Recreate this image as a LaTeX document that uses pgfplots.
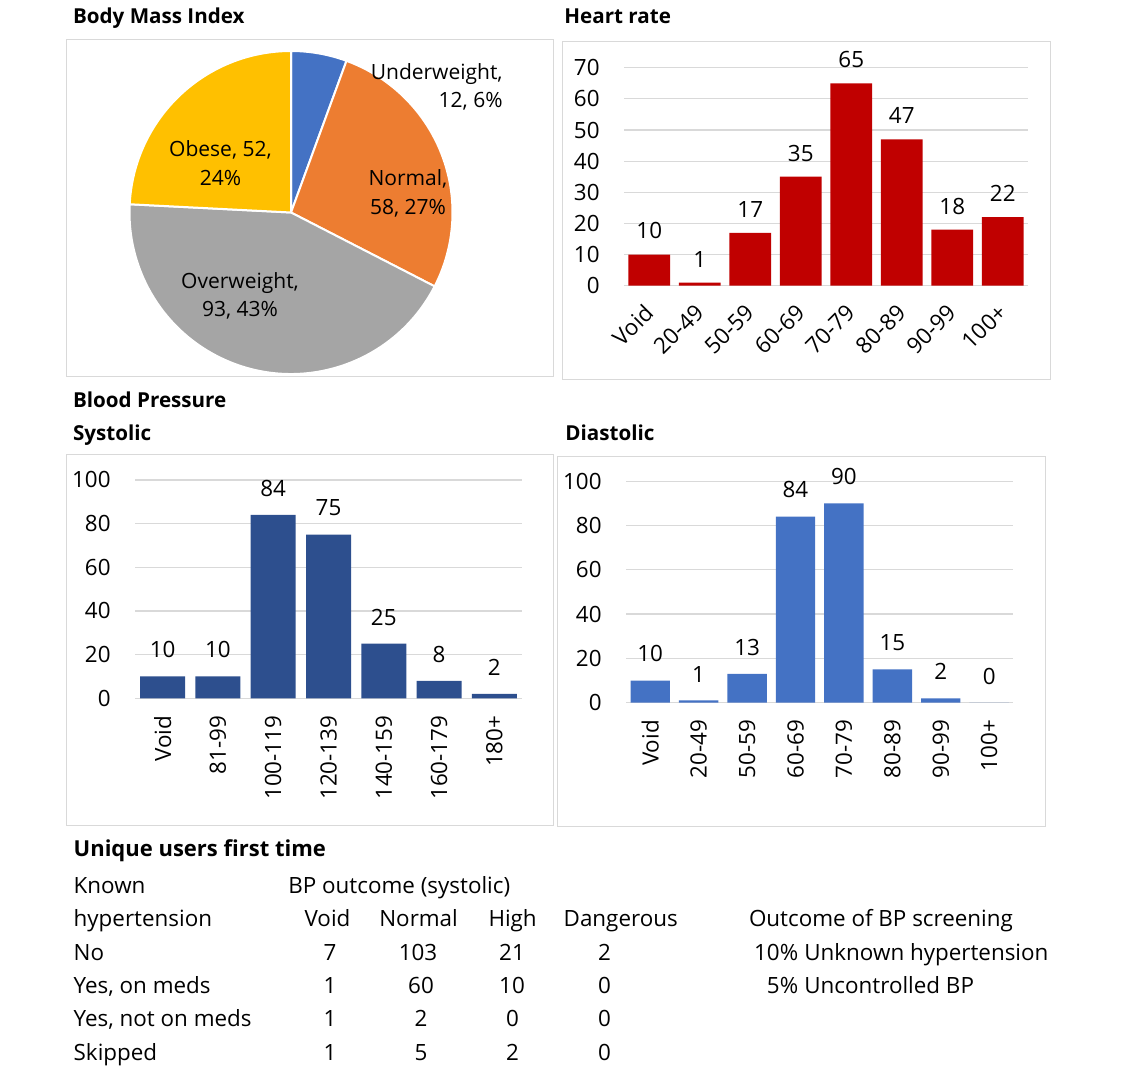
\documentclass[border=0pt]{standalone}
\usepackage{fontspec}
\setmainfont{Open Sans}
\usepackage{pgfplots}
\pgfplotsset{compat=1.18}

\definecolor{gridgray}{HTML}{D9D9D9}
\definecolor{pieblue}{HTML}{4472C4}
\definecolor{pieorange}{HTML}{ED7D31}
\definecolor{piegray}{HTML}{A5A5A5}
\definecolor{pieyellow}{HTML}{FFC000}
\definecolor{hrred}{HTML}{C00000}
\definecolor{sysblue}{HTML}{2D4F8E}
\definecolor{diablue}{HTML}{4472C4}

\newcommand{\lbl}{\fontsize{11.2}{13}\selectfont}
\newcommand{\pielbl}{\fontsize{10.5}{13}\selectfont}
\newcommand{\tbl}{\fontsize{11.2}{13}\selectfont}
\newcommand{\ttl}{\fontsize{10.3}{12}\selectfont\bfseries}
\newcommand{\bigttl}{\fontsize{11}{13}\selectfont\bfseries}

\pgfplotsset{
  excelbar/.style={
    ybar, scale only axis,
    axis line style={draw=none},
    major tick length=0pt,
    ymajorgrids, grid style={gridgray, line width=0.6pt},
    xtick=data, ymin=0,
    tick label style={font=\lbl},
    /pgf/number format/assume math mode=true,
    yticklabel style={anchor=east, inner sep=0pt, xshift=-12pt},
    nodes near coords,
    every node near coord/.append style={font=\lbl, anchor=south, inner sep=0pt, yshift=9pt},
    clip=false,
  },
}

% BMI counts
\def\bmiUnder{12}\def\bmiNormal{58}\def\bmiOver{93}\def\bmiObese{52}

\begin{document}
\begin{tikzpicture}[x=0.5pt, y=-0.5pt]
\path[use as bounding box] (0,0) rectangle (1122,1081);

% anchor points of the axes (pixel grid of the reference)
\coordinate (pieO) at (291,212.5);
\coordinate (hrO) at (624,285.7);
\coordinate (sysO) at (135,698.3);
\coordinate (diaO) at (626,702.7);

% panel frames
\draw[gridgray, line width=0.5pt] (66.7,39.3) rectangle (553,376.7);
\draw[gridgray, line width=0.5pt] (562,42) rectangle (1050,379);
\draw[gridgray, line width=0.5pt] (66.7,454.3) rectangle (553.3,825);
\draw[gridgray, line width=0.5pt] (557.3,456.7) rectangle (1045,826.7);

% titles
\node[anchor=base west, font=\ttl, inner sep=0pt] at (72.7,24) {Body Mass Index};
\node[anchor=base west, font=\ttl, inner sep=0pt] at (564,24) {Heart rate};
\node[anchor=base west, font=\ttl, inner sep=0pt] at (72.7,407.3) {Blood Pressure};
\node[anchor=base west, font=\ttl, inner sep=0pt] at (72.7,440) {Systolic};
\node[anchor=base west, font=\ttl, inner sep=0pt] at (565,440.7) {Diastolic};

% pie
\pgfmathsetmacro{\bmiTot}{\bmiUnder+\bmiNormal+\bmiOver+\bmiObese}
\pgfmathsetmacro{\degPer}{360/\bmiTot}
\pgfmathsetmacro{\aA}{90-\degPer*\bmiUnder}
\pgfmathsetmacro{\aB}{\aA-\degPer*\bmiNormal}
\pgfmathsetmacro{\aC}{\aB-\degPer*\bmiOver}
\pgfmathsetmacro{\aD}{\aC-\degPer*\bmiObese}
\begin{axis}[at={(pieO)}, anchor=origin, hide axis, scale only axis,
  x=80.75pt, y=80.75pt, xmin=-1, xmax=1, ymin=-1, ymax=1, clip=false]
  \filldraw[fill=pieblue, draw=white, line width=1pt] (axis cs:0,0) -- ++(90:80.75pt) arc[start angle=90, end angle=\aA, radius=80.75pt] -- cycle;
  \filldraw[fill=pieorange, draw=white, line width=1pt] (axis cs:0,0) -- ++(\aA:80.75pt) arc[start angle=\aA, end angle=\aB, radius=80.75pt] -- cycle;
  \filldraw[fill=piegray, draw=white, line width=1pt] (axis cs:0,0) -- ++(\aB:80.75pt) arc[start angle=\aB, end angle=\aC, radius=80.75pt] -- cycle;
  \filldraw[fill=pieyellow, draw=white, line width=1pt] (axis cs:0,0) -- ++(\aC:80.75pt) arc[start angle=\aC, end angle=\aD, radius=80.75pt] -- cycle;
\end{axis}
\node[anchor=base east, font=\pielbl, inner sep=0pt] at (503,79.3) {Underweight,};
\node[anchor=base east, font=\pielbl, inner sep=0pt] at (503,107.7) {12, 6\%};
\node[anchor=base, font=\pielbl, inner sep=0pt] at (408,185.7) {Normal,};
\node[anchor=base, font=\pielbl, inner sep=0pt] at (408,214.3) {58, 27\%};
\node[anchor=base, font=\pielbl, inner sep=0pt] at (220.5,156.7) {Obese, 52,};
\node[anchor=base, font=\pielbl, inner sep=0pt] at (220.5,185) {24\%};
\node[anchor=base, font=\pielbl, inner sep=0pt] at (240,288.3) {Overweight,};
\node[anchor=base, font=\pielbl, inner sep=0pt] at (240,316.7) {93, 43\%};

% heart rate
\begin{axis}[excelbar,
  at={(hrO)}, anchor=south west,
  width=202pt, height=109pt,
  xmin=-0.5, xmax=7.5, ymax=70, ytick={0,10,...,70},
  bar width=20.85pt,
  every node near coord/.append style={yshift=-1.5pt},
  xticklabels={Void,20-49,50-59,60-69,70-79,80-89,90-99,100+},
  xticklabel style={yshift=-11.5pt, rotate=45, anchor=east, inner sep=0pt},
]
\addplot[fill=hrred, draw=none] coordinates {(0,10) (1,1) (2,17) (3,35) (4,65) (5,47) (6,18) (7,22)};
\end{axis}

% systolic
\begin{scope}
\clip (0,0) rectangle (1122,798);
\begin{axis}[excelbar,
  at={(sysO)}, anchor=south west,
  width=193.5pt, height=109.2pt,
  xmin=-0.5, xmax=6.5, ymax=100, ytick={0,20,...,100},
  bar width=22.5pt,
  xticklabels={Void,81-99,100-119,120-139,140-159,160-179,180+},
  xticklabel style={yshift=-8.5pt, rotate=90, anchor=east, inner sep=0pt},
]
\addplot[fill=sysblue, draw=none] coordinates {(0,10) (1,10) (2,84) (3,75) (4,25) (5,8) (6,2)};
\end{axis}
\end{scope}

% diastolic
\begin{axis}[excelbar,
  at={(diaO)}, anchor=south west,
  width=193.7pt, height=110.8pt,
  xmin=-0.5, xmax=7.5, ymax=100, ytick={0,20,...,100},
  bar width=19.7pt,
  xticklabels={Void,20-49,50-59,60-69,70-79,80-89,90-99,100+},
  xticklabel style={yshift=-8.5pt, rotate=90, anchor=east, inner sep=0pt},
]
\addplot[fill=diablue, draw=none] coordinates {(0,10) (1,1) (2,13) (3,84) (4,90) (5,15) (6,2) (7,0)};
\end{axis}

% table
\node[anchor=base west, font=\bigttl, inner sep=0pt] at (73.3,856) {Unique users first time};
\begin{scope}[every node/.style={font=\tbl, inner sep=0pt}]
\node[anchor=base west] at (73.3,893.3) {Known};
\node[anchor=base west] at (288,893.3) {BP outcome (systolic)};
\node[anchor=base west] at (73.3,926.7) {hypertension};
\node[anchor=base] at (327.5,926.7) {Void};
\node[anchor=base] at (418.6,926.7) {Normal};
\node[anchor=base] at (512.6,926.7) {High};
\node[anchor=base] at (620.7,926.7) {Dangerous};
\node[anchor=base west] at (748.6,926.7) {Outcome of BP screening};
\node[anchor=base west] at (73.3,960) {No};
\node[anchor=base west] at (73.3,993.3) {Yes, on meds};
\node[anchor=base west] at (73.3,1026.7) {Yes, not on meds};
\node[anchor=base west] at (73.3,1060) {Skipped};
\node[anchor=base] at (330,960) {7};
\node[anchor=base] at (330,993.3) {1};
\node[anchor=base] at (330,1026.7) {1};
\node[anchor=base] at (330,1060) {1};
\node[anchor=base] at (418,960) {103};
\node[anchor=base] at (421,993.3) {60};
\node[anchor=base] at (421,1026.7) {2};
\node[anchor=base] at (421,1060) {5};
\node[anchor=base] at (512,960) {21};
\node[anchor=base] at (512,993.3) {10};
\node[anchor=base] at (512.5,1026.7) {0};
\node[anchor=base] at (512.5,1060) {2};
\node[anchor=base] at (604.5,960) {2};
\node[anchor=base] at (604.5,993.3) {0};
\node[anchor=base] at (604.5,1026.7) {0};
\node[anchor=base] at (604.5,1060) {0};
\node[anchor=base east] at (798.6,960) {10\%};
\node[anchor=base west] at (804,960) {Unknown hypertension};
\node[anchor=base east] at (798.6,993.3) {5\%};
\node[anchor=base west] at (804,993.3) {Uncontrolled BP};
\end{scope}
\end{tikzpicture}
\end{document}
